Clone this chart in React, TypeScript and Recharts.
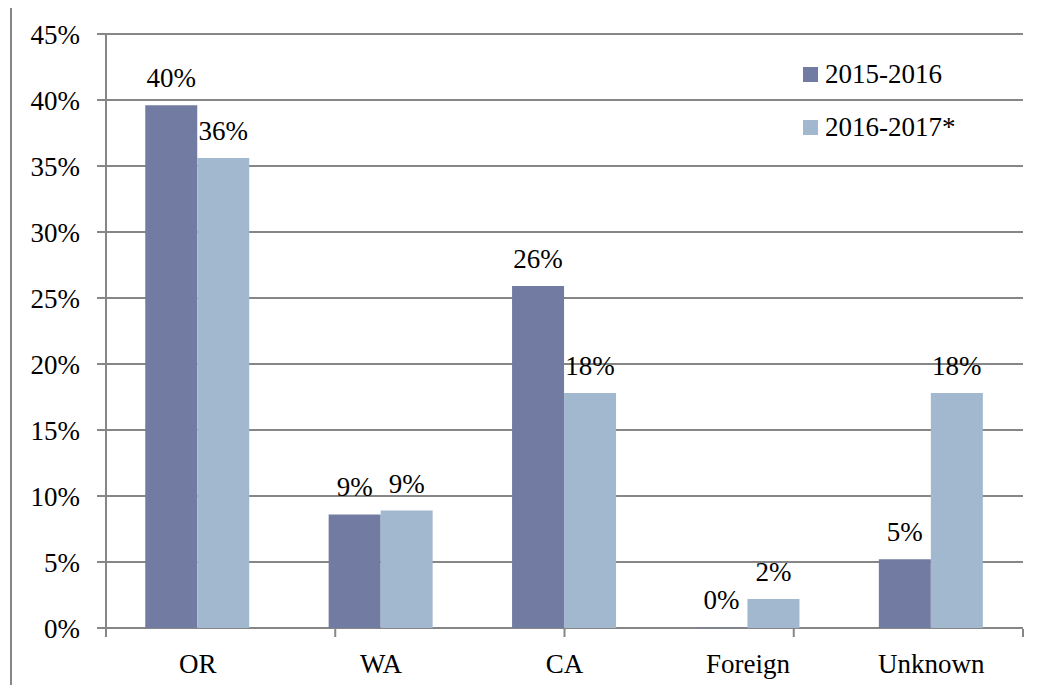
import { BarChart, Bar, XAxis, YAxis, CartesianGrid, LabelList } from "recharts";

const categories = ["OR", "WA", "CA", "Foreign", "Unknown"];
const series2015 = [39.6, 8.6, 25.9, 0.04, 5.2];
const series2016 = [35.6, 8.9, 17.8, 2.2, 17.8];
const yTicks = [0, 5, 10, 15, 20, 25, 30, 35, 40, 45];
const edgeTicks = [0, 1, 2, 3, 4, 5];

const COLORS = ["#727CA3", "#A2B8CE"];
const SERIES_NAMES = ["2015-2016", "2016-2017*"];
const GRID = "#868686";
const FONT = "Liberation Serif";

const data = categories.map((name, i) => ({
	name,
	a: series2015[i],
	b: series2016[i],
}));

const YTick = ({ x, y, payload }: any) => (
	<text x={x} y={y} dy={10} textAnchor="end" fontFamily={FONT} fontSize={27} fill="#000">
		{`${payload.value}%`}
	</text>
);

const XTick = ({ x, y, payload }: any) => (
	<text x={x} y={y} textAnchor="middle" fontFamily={FONT} fontSize={27} fill="#000">
		{payload.value}
	</text>
);

const NoTick = () => <g />;

const BarLabel = ({ x, y, width, value }: any) => (
	<text x={x + width / 2} y={y - 18} textAnchor="middle" fontFamily={FONT} fontSize={27} fill="#000">
		{`${Math.round(value)}%`}
	</text>
);

export default function App() {
	return (
		<div
			style={{
				position: "relative",
				width: 1041,
				height: 693,
				margin: -8,
				overflow: "hidden",
				background: "#fff",
				fontFamily: FONT,
			}}
		>
			<div
				style={{
					position: "absolute",
					left: 10,
					top: 5,
					width: 1100,
					height: 800,
					borderLeft: `2px solid ${GRID}`,
					borderTop: `2px solid ${GRID}`,
				}}
			/>
			<BarChart
				width={1041}
				height={693}
				data={data}
				margin={{ top: 34, right: 18, left: 0, bottom: 35 }}
				barCategoryGap="21.4%"
				barGap={0}
				style={{ position: "absolute", left: 0, top: 0 }}
			>
				<CartesianGrid vertical={false} stroke={GRID} strokeWidth={2} />
				<XAxis
					dataKey="name"
					height={1}
					axisLine={false}
					tickLine={false}
					tickSize={0}
					tickMargin={45}
					tick={<XTick />}
					interval={0}
				/>
				<XAxis
					xAxisId="edges"
					type="number"
					domain={[0, 5]}
					ticks={edgeTicks}
					tick={<NoTick />}
					height={29}
					tickSize={8}
					axisLine={false}
					tickLine={{ stroke: GRID, strokeWidth: 2 }}
				/>
				<YAxis
					width={106}
					domain={[0, 45]}
					ticks={yTicks}
					interval={0}
					tickSize={9}
					tickMargin={17}
					axisLine={{ stroke: GRID, strokeWidth: 2 }}
					tickLine={{ stroke: GRID, strokeWidth: 2 }}
					tick={<YTick />}
				/>
				<Bar dataKey="a" name={SERIES_NAMES[0]} fill={COLORS[0]} isAnimationActive={false}>
					<LabelList dataKey="a" content={<BarLabel />} />
				</Bar>
				<Bar dataKey="b" name={SERIES_NAMES[1]} fill={COLORS[1]} isAnimationActive={false}>
					<LabelList dataKey="b" content={<BarLabel />} />
				</Bar>
			</BarChart>
			<div style={{ position: "absolute", left: 803, top: 48, fontSize: 27, color: "#000" }}>
				{SERIES_NAMES.map((n, i) => (
					<div key={n} style={{ display: "flex", alignItems: "center", height: 53 }}>
						<span
							style={{
								width: 15,
								height: 15,
								background: COLORS[i],
								marginRight: 7,
								display: "inline-block",
							}}
						/>
						<span>{n}</span>
					</div>
				))}
			</div>
		</div>
	);
}
